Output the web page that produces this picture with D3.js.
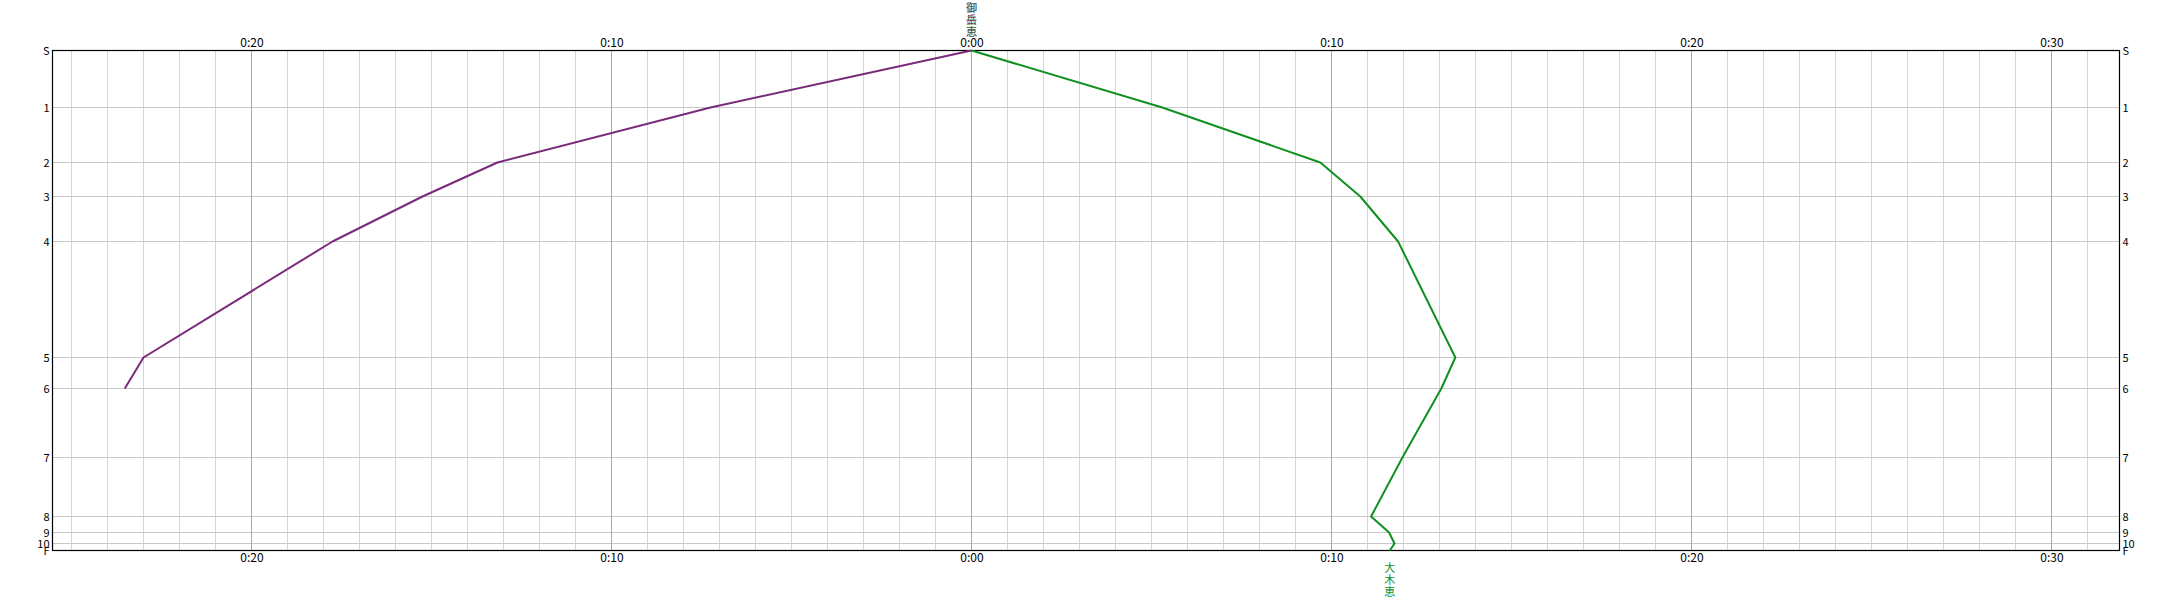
<!DOCTYPE html>
<html><head><meta charset="utf-8">
<script src="https://cdn.jsdelivr.net/npm/d3@7"></script>
<style>
html,body{margin:0;padding:0;background:#fff;}
svg{display:block;}
text{font-family:"Noto Sans CJK JP","DejaVu Sans",sans-serif;}
</style></head>
<body>
<script>
// Stations (top to bottom) and their relative positions along the route
const stations = ["S","1","2","3","4","5","6","7","8","9","10","F"];
const stationPos = [0, 57, 112, 146, 191, 307, 338, 407, 466, 482, 493, 500];

// Time axis (minutes, negative = left side)
const timeExtent = [-25.528, 31.889];
const timeTicks = [-20, -10, 0, 10, 20, 30];

// Series: elapsed minutes at each station
const purpleStations = ["S","1","2","3","4","5","6"];
const purpleTimes = [0, -7.25, -13.17, -15.25, -17.75, -23.0, -23.52];
const greenStations = ["S","1","2","3","4","5","6","7","8","9","10","F"];
const greenTimes = [0, 5.3, 9.69, 10.8, 11.85, 13.44, 13.05, 11.97, 11.1, 11.6, 11.75, 11.62];

// Labels
const purpleLabel = "御岳恵";
const greenTopLabel = "御去恵";
const greenBottomLabel = "大木恵";

const W = 2171, H = 600;
const svg = d3.select("body").append("svg").attr("width", W).attr("height", H);

const x = d3.scaleLinear().domain(timeExtent).range([52.5, 2119.5]);
const y = d3.scaleLinear().domain([0, 500]).range([50.5, 550.5]);
const sy = s => y(stationPos[stations.indexOf(s)]);

// minor vertical grid every minute
const minutes = d3.range(Math.ceil(timeExtent[0]), Math.floor(timeExtent[1]) + 1);
svg.append("g").selectAll("line").data(minutes.filter(m => m % 10 !== 0)).join("line")
  .attr("x1", d => Math.round(x(d) - 0.5) + 0.5).attr("x2", d => Math.round(x(d) - 0.5) + 0.5)
  .attr("y1", y(0)).attr("y2", y(500))
  .attr("stroke", "#d4d4d4").attr("stroke-width", 1);
// horizontal station grid
svg.append("g").selectAll("line").data(stationPos.slice(1, -1)).join("line")
  .attr("x1", x(timeExtent[0])).attr("x2", x(timeExtent[1]))
  .attr("y1", d => y(d)).attr("y2", d => y(d))
  .attr("stroke", "#c8c8c8").attr("stroke-width", 1);
// major vertical grid
svg.append("g").selectAll("line").data(timeTicks).join("line")
  .attr("x1", d => Math.round(x(d) - 0.5) + 0.5).attr("x2", d => Math.round(x(d) - 0.5) + 0.5)
  .attr("y1", y(0)).attr("y2", y(500))
  .attr("stroke", "#a8a8a8").attr("stroke-width", 1);

// frame
svg.append("rect").attr("x", x(timeExtent[0])).attr("y", y(0))
  .attr("width", x(timeExtent[1]) - x(timeExtent[0])).attr("height", y(500) - y(0))
  .attr("fill", "none").attr("stroke", "#000").attr("stroke-width", 1.2);

const fmt = d => "0:" + String(Math.abs(d)).padStart(2, "0");
// top & bottom tick labels via axes
const axTop = d3.axisTop(x).tickValues(timeTicks).tickFormat(fmt).tickSize(0).tickPadding(3);
const axBot = d3.axisBottom(x).tickValues(timeTicks).tickFormat(fmt).tickSize(0).tickPadding(3);
const gT = svg.append("g").attr("transform", `translate(0,${y(0) - 1})`).call(axTop);
const gB = svg.append("g").attr("transform", `translate(0,${y(500)})`).call(axBot);
[gT, gB].forEach(g => {
  g.select(".domain").remove();
  g.selectAll("text").attr("font-size", 12).attr("fill", "#000")
    .attr("font-family", "'Liberation Mono','DejaVu Sans Mono',monospace");
});

// station labels left & right
const ys = d3.scaleOrdinal().domain(stations).range(stationPos.map(p => y(p)));
const axL = d3.axisLeft(ys).tickSize(0).tickPadding(3);
const axR = d3.axisRight(ys).tickSize(0).tickPadding(3);
const gL = svg.append("g").attr("transform", `translate(${x(timeExtent[0])},0)`).call(axL);
const gR = svg.append("g").attr("transform", `translate(${x(timeExtent[1])},0)`).call(axR);
[gL, gR].forEach(g => {
  g.select(".domain").remove();
  g.selectAll("text").attr("font-size", 11).attr("fill", "#000")
    .attr("font-family", "'Liberation Sans Narrow','Liberation Sans','DejaVu Sans',sans-serif");
});

// series lines
const line = d3.line().x(d => x(d[1])).y(d => sy(d[0]));
const purpleColor = "#7a2a7a", greenColor = "#109020";
svg.append("path").datum(purpleStations.map((s, i) => [s, purpleTimes[i]]))
  .attr("d", line).attr("fill", "none").attr("stroke", purpleColor).attr("stroke-width", 2)
  .attr("stroke-linejoin", "round");
svg.append("path").datum(greenStations.map((s, i) => [s, greenTimes[i]]))
  .attr("d", line).attr("fill", "none").attr("stroke", greenColor).attr("stroke-width", 2)
  .attr("stroke-linejoin", "round");

// vertical labels
function vlabel(txt, cx, top, color, op) {
  const g = svg.append("g");
  Array.from(txt).forEach((ch, i) => {
    g.append("text").text(ch).attr("x", cx).attr("y", top + i * 12 + 10)
      .attr("text-anchor", "middle").attr("font-size", 11).attr("fill", color)
      .attr("opacity", op);
  });
}
vlabel(purpleLabel, x(purpleTimes[0]), 2, purpleColor, 1);
vlabel(greenTopLabel, x(greenTimes[0]), 2, greenColor, 0.6);
vlabel(greenBottomLabel, x(greenTimes[greenTimes.length - 1]), 562, greenColor, 1);
</script>
</body></html>
